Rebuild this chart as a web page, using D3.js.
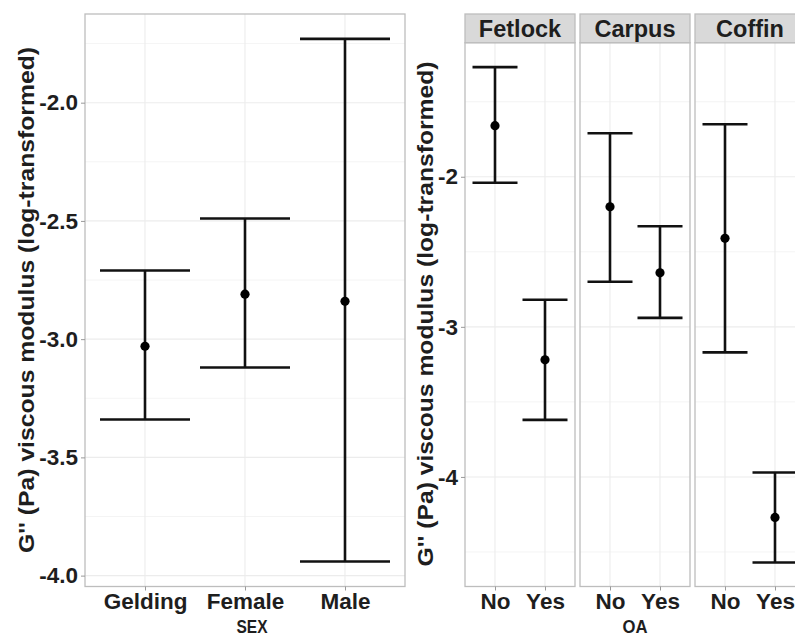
<!DOCTYPE html>
<html><head><meta charset="utf-8">
<script src="https://cdn.jsdelivr.net/npm/d3@7"></script>
<style>
body{margin:0;background:#fff;}
svg{display:block;font-family:"Liberation Sans",Arial,Helvetica,sans-serif;}
</style></head>
<body>
<svg id="c" width="795" height="637"></svg>
<script>
// ---- data ----
const sexCats = ["Gelding", "Female", "Male"];
const sexMean = [-3.03, -2.81, -2.84];
const sexLower = [-3.34, -3.12, -3.94];
const sexUpper = [-2.71, -2.49, -1.73];
const sexTicks = [-4.0, -3.5, -3.0, -2.5, -2.0];

const joints = ["Fetlock", "Carpus", "Coffin"];
const oaCats = ["No", "Yes"];
const oaMean  = [[-1.66, -3.22], [-2.20, -2.64], [-2.41, -4.27]];
const oaLower = [[-2.04, -3.62], [-2.70, -2.94], [-3.17, -4.57]];
const oaUpper = [[-1.27, -2.82], [-1.71, -2.33], [-1.65, -3.97]];
const oaTicks = [-4, -3, -2];

const yTitle = "G'' (Pa) viscous modulus (log-transformed)";

const svg = d3.select("#c");
const gridCol = "#ececec", borderCol = "#bdbdbd", textCol = "#1e1e1e";
const hyph = f => d => f(d).replace("\u2212", "-");

function panel(g, x, y, cats, mean, lo, hi, majorTicks, minorTicks, drawYAxis, fmt) {
  const [x0, x1] = x.range(), [y1, y0] = y.range();
  g.selectAll(".mn").data(minorTicks).join("line")
    .attr("x1", x0).attr("x2", x1).attr("y1", d => y(d)).attr("y2", d => y(d))
    .attr("stroke", gridCol).attr("stroke-width", 0.6);
  g.selectAll(".mj").data(majorTicks).join("line")
    .attr("x1", x0).attr("x2", x1).attr("y1", d => y(d)).attr("y2", d => y(d))
    .attr("stroke", gridCol).attr("stroke-width", 1.1);
  g.selectAll(".vx").data(cats).join("line")
    .attr("x1", d => x(d)).attr("x2", d => x(d)).attr("y1", y0).attr("y2", y1)
    .attr("stroke", gridCol).attr("stroke-width", 1.1);
  const cw = x.step() * 0.9 / 2;
  const eb = g.selectAll(".eb").data(cats).join("g");
  eb.append("line").attr("x1", d => x(d)).attr("x2", d => x(d))
    .attr("y1", (d, i) => y(lo[i])).attr("y2", (d, i) => y(hi[i]))
    .attr("stroke", "#111").attr("stroke-width", 2.6);
  eb.append("line").attr("x1", d => x(d) - cw).attr("x2", d => x(d) + cw)
    .attr("y1", (d, i) => y(lo[i])).attr("y2", (d, i) => y(lo[i]))
    .attr("stroke", "#111").attr("stroke-width", 2.6);
  eb.append("line").attr("x1", d => x(d) - cw).attr("x2", d => x(d) + cw)
    .attr("y1", (d, i) => y(hi[i])).attr("y2", (d, i) => y(hi[i]))
    .attr("stroke", "#111").attr("stroke-width", 2.6);
  eb.append("circle").attr("cx", d => x(d)).attr("cy", (d, i) => y(mean[i]))
    .attr("r", 4.6).attr("fill", "#000");
  g.append("rect").attr("x", x0).attr("y", y0).attr("width", x1 - x0).attr("height", y1 - y0)
    .attr("fill", "none").attr("stroke", borderCol).attr("stroke-width", 1.3);
  const xa = g.append("g").attr("transform", `translate(0,${y1})`)
    .call(d3.axisBottom(x).tickSize(4).tickPadding(3));
  xa.select(".domain").remove();
  xa.selectAll(".tick line").attr("stroke", "#999");
  xa.selectAll("text").attr("fill", textCol).attr("font-size", 22.5).attr("font-weight", "bold")
    .attr("font-family", "Liberation Sans, Arial, sans-serif");
  if (drawYAxis) {
    const ya = g.append("g").attr("transform", `translate(${x0},0)`)
      .call(d3.axisLeft(y).tickValues(majorTicks).tickFormat(hyph(fmt)).tickSize(4).tickPadding(3));
    ya.select(".domain").remove();
    ya.selectAll(".tick line").attr("stroke", "#999");
    ya.selectAll("text").attr("fill", textCol).attr("font-size", 22.5).attr("font-weight", "bold")
      .attr("font-family", "Liberation Sans, Arial, sans-serif");
  }
}

// ---- left chart (SEX) ----
const yL = d3.scaleLinear().domain([-4.046, -1.625]).range([586.5, 14]);
const xL = d3.scalePoint().domain(sexCats).range([85, 405]).padding(0.6);
panel(svg.append("g"), xL, yL, sexCats, sexMean, sexLower, sexUpper,
      sexTicks, [-3.75, -3.25, -2.75, -2.25, -1.75], true, d3.format(".1f"));
svg.append("text").attr("transform", "translate(34,300) rotate(-90)")
  .attr("text-anchor", "middle").attr("font-size", 21.5).attr("font-weight", "bold")
  .attr("textLength", 506).attr("lengthAdjust", "spacingAndGlyphs")
  .attr("fill", textCol).text(yTitle);
svg.append("text").attr("x", 252).attr("y", 633).attr("text-anchor", "middle")
  .attr("font-family", "Liberation Sans Narrow, Arial Narrow, Liberation Sans, sans-serif")
  .attr("font-size", 18).attr("font-weight", "bold").attr("fill", textCol)
  .attr("textLength", 31).attr("lengthAdjust", "spacingAndGlyphs").text("SEX");

// ---- right chart (OA by joint) ----
const yR = d3.scaleLinear().domain([-4.73, -1.107]).range([586.5, 42.7]);
const panelX = [465, 580, 695];
const pw = 110;
joints.forEach((j, k) => {
  const g = svg.append("g");
  const x = d3.scalePoint().domain(oaCats).range([panelX[k], panelX[k] + pw]).padding(0.6);
  panel(g, x, yR, oaCats, oaMean[k], oaLower[k], oaUpper[k],
        oaTicks, [-4.5, -3.5, -2.5, -1.5], k === 0, d3.format("d"));
  g.append("rect").attr("x", panelX[k]).attr("y", 14).attr("width", pw).attr("height", 28.7)
    .attr("fill", "#d9d9d9").attr("stroke", borderCol).attr("stroke-width", 1.3);
  g.append("text").attr("x", panelX[k] + pw / 2).attr("y", 37).attr("text-anchor", "middle")
    .attr("font-size", 23.5).attr("font-weight", "bold").attr("fill", textCol).text(j);
});
svg.append("text").attr("transform", "translate(433,314) rotate(-90)")
  .attr("text-anchor", "middle").attr("font-size", 21.5).attr("font-weight", "bold")
  .attr("textLength", 505).attr("lengthAdjust", "spacingAndGlyphs")
  .attr("fill", textCol).text(yTitle);
svg.append("text").attr("x", 635).attr("y", 633).attr("text-anchor", "middle")
  .attr("font-family", "Liberation Sans Narrow, Arial Narrow, Liberation Sans, sans-serif")
  .attr("font-size", 18).attr("font-weight", "bold").attr("fill", textCol)
  .attr("textLength", 25).attr("lengthAdjust", "spacingAndGlyphs").text("OA");
</script>
</body></html>
